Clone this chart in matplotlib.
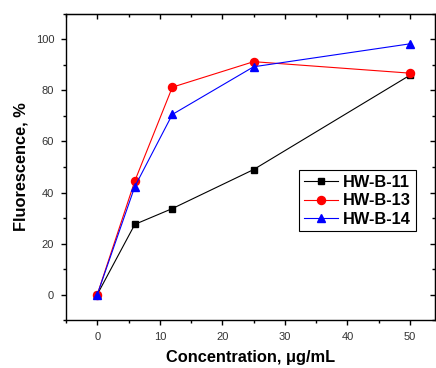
import matplotlib
matplotlib.use("Agg")
import matplotlib.pyplot as plt
from matplotlib.ticker import MultipleLocator

plt.rcParams["font.family"] = ["Liberation Sans", "DejaVu Sans"]

# data
concentration = [0, 6, 12, 25, 50]
hw_b_11 = [0, 27.5, 33.7, 49.0, 86.0]
hw_b_13 = [0, 44.5, 81.3, 91.3, 86.8]
hw_b_14 = [0, 42.3, 70.6, 89.3, 98.3]

fig = plt.figure(figsize=(4.36, 3.68), dpi=100)
ax = fig.add_axes([0.1514, 0.1304, 0.8463, 0.8316])

ax.plot(concentration, hw_b_11, color="black", marker="s", markersize=4.6, lw=0.8, label="HW-B-11")
ax.plot(concentration, hw_b_13, color="red", marker="o", markersize=5.8, lw=0.8, label="HW-B-13")
ax.plot(concentration, hw_b_14, color="blue", marker="^", markersize=6.2, lw=0.8, label="HW-B-14")

ax.set_xlim(-5, 54)
ax.set_ylim(-10, 110)
ax.xaxis.set_major_locator(MultipleLocator(10))
ax.xaxis.set_minor_locator(MultipleLocator(5))
ax.yaxis.set_major_locator(MultipleLocator(20))
ax.yaxis.set_minor_locator(MultipleLocator(10))
# bottom/left ticks point out, mirrored top/right ticks point in
ax.tick_params(which="both", direction="out", labelsize=8, labelcolor="#333333", width=1)
ax.tick_params(which="major", length=3.5, pad=5)
ax.tick_params(which="minor", length=2.2)

sx = ax.secondary_xaxis("top")
sx.set_xticks(range(0, 55, 10))
sx.xaxis.set_minor_locator(MultipleLocator(5))
sx.tick_params(which="both", direction="in", labeltop=False, width=1)
sx.tick_params(which="major", length=3.5)
sx.tick_params(which="minor", length=2.2)

sy = ax.secondary_yaxis("right")
sy.set_yticks(range(0, 111, 20))
sy.yaxis.set_minor_locator(MultipleLocator(10))
sy.tick_params(which="both", direction="in", labelright=False, width=1)
sy.tick_params(which="major", length=3.5)
sy.tick_params(which="minor", length=2.2)

for s in ax.spines.values():
    s.set_linewidth(1)

ax.set_xlabel("Concentration, \u03bcg/mL", fontsize=11.8, fontweight="bold", labelpad=6)
ax.set_ylabel("Fluorescence, %", fontsize=11.8, fontweight="bold", labelpad=5)

leg = ax.legend(loc="upper left", bbox_to_anchor=(0.631, 0.49), fancybox=False,
                edgecolor="black", framealpha=1, prop={"weight": "bold", "size": 11.8},
                handlelength=2.1, borderpad=0.3, labelspacing=0.2, handletextpad=0.3,
                borderaxespad=0)
leg.get_frame().set_linewidth(0.8)

fig.savefig("out.png", dpi=100)
